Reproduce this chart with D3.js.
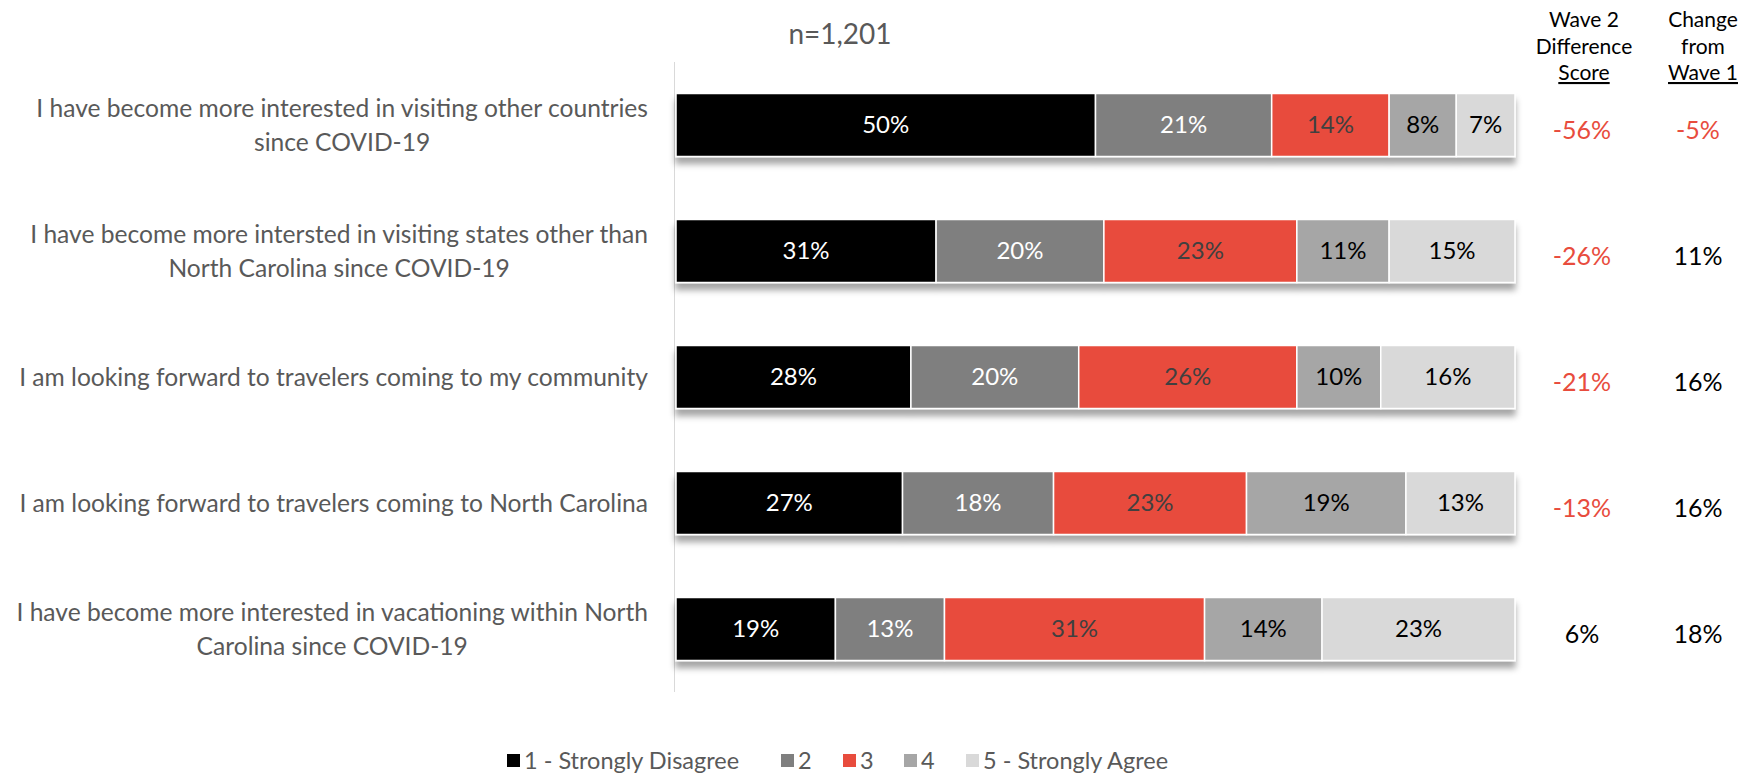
<!DOCTYPE html>
<html>
<head>
<meta charset="utf-8">
<script src="https://cdn.jsdelivr.net/npm/d3@7"></script>
<style>
  html, body { margin: 0; padding: 0; background: #ffffff; }
  svg { display: block; font-family: Lato, "Open Sans", sans-serif; }
</style>
</head>
<body>
<svg id="chart" width="1758" height="778"></svg>
<script>
// Survey statements (line breaks mark where each label wraps)
const categories = [
  "I have become more interested in visiting other countries\nsince COVID-19",
  "I have become more intersted in visiting states other than\nNorth Carolina since COVID-19",
  "I am looking forward to travelers coming to my community",
  "I am looking forward to travelers coming to North Carolina",
  "I have become more interested in vacationing within North\nCarolina since COVID-19"
];

// Response scale
const seriesNames = ["1 - Strongly Disagree", "2", "3", "4", "5 - Strongly Agree"];

// Percent of respondents per response, one array per statement
const strongDisagree = [50, 31, 28, 27, 19];
const disagree       = [21, 20, 20, 18, 13];
const neutral        = [14, 23, 26, 23, 31];
const agree          = [8, 11, 10, 19, 14];
const strongAgree    = [7, 15, 16, 13, 23];

// Side columns
const differenceScore = [-56, -26, -21, -13, 6];
const changeFromWave1 = [-5, 11, 16, 16, 18];

const sampleLabel = "n=1,201";
const diffHeader = ["Wave 2", "Difference", "Score"];
const changeHeader = ["Change", "from", "Wave 1"];

const colors = ["#000000", "#7f7f7f", "#e84c3d", "#a6a6a6", "#d9d9d9"];
const labelColors = ["#ffffff", "#ffffff", "#404040", "#000000", "#000000"];

const seriesValues = [strongDisagree, disagree, neutral, agree, strongAgree];
const rows = categories.map((c, i) => {
  const r = { category: c };
  seriesNames.forEach((s, k) => { r[s] = seriesValues[k][i]; });
  return r;
});

const svg = d3.select("#chart");

const x = d3.scaleLinear().domain([0, 100]).range([676, 1515]);
const y = d3.scaleBand().domain(categories).range([62, 692]).paddingInner(0.5).paddingOuter(0.25);

const stacked = d3.stack().keys(seriesNames)(rows);

// Soft shadow under each bar
const defs = svg.append("defs");
const f = defs.append("filter").attr("id", "barShadow")
  .attr("x", "-5%").attr("y", "-20%").attr("width", "110%").attr("height", "160%");
f.append("feDropShadow").attr("dx", 0).attr("dy", 7).attr("stdDeviation", 3)
  .attr("flood-color", "#000").attr("flood-opacity", 0.35);

// Vertical axis line
svg.append("line")
  .attr("x1", 674.5).attr("x2", 674.5)
  .attr("y1", 62).attr("y2", 692)
  .attr("stroke", "#d9d9d9").attr("stroke-width", 1);

// Bars
const rowGroups = svg.append("g").selectAll("g.row")
  .data(categories)
  .join("g").attr("class", "row")
  .attr("filter", "url(#barShadow)");

rowGroups.each(function(cat, i) {
  const g = d3.select(this);
  stacked.forEach((layer, k) => {
    const d = layer[i];
    g.append("rect")
      .attr("x", x(d[0]))
      .attr("y", y(cat))
      .attr("width", x(d[1]) - x(d[0]))
      .attr("height", y.bandwidth())
      .attr("fill", colors[k])
      .attr("stroke", "#ffffff")
      .attr("stroke-width", 1.5);
  });
});

// Segment value labels
stacked.forEach((layer, k) => {
  svg.append("g").selectAll("text")
    .data(layer)
    .join("text")
    .attr("x", d => (x(d[0]) + x(d[1])) / 2)
    .attr("y", (d, i) => y(categories[i]) + y.bandwidth() / 2)
    .attr("dy", "0.35em")
    .attr("text-anchor", "middle")
    .attr("font-size", 24)
    .attr("fill", labelColors[k])
    .text(d => (d[1] - d[0]) + "%");
});

// Category labels: lines centered within a block that is right-aligned at x = 648
const catLabels = svg.append("g").selectAll("text")
  .data(categories)
  .join("text")
  .attr("text-anchor", "middle")
  .attr("font-size", 24.6)
  .attr("fill", "#595959");
catLabels.each(function(c) {
  const lines = c.split("\n");
  const cy = y(c) + y.bandwidth() / 2;
  const lh = 34;
  const t = d3.select(this);
  lines.forEach((ln, j) => {
    t.append("tspan")
      .attr("x", 648)
      .attr("y", cy + (j - (lines.length - 1) / 2) * lh)
      .attr("dy", "0.35em")
      .text(ln);
  });
  const tspans = t.selectAll("tspan").nodes();
  const maxW = d3.max(tspans, n => n.getComputedTextLength());
  tspans.forEach(n => { d3.select(n).attr("x", 648 - maxW / 2); });
});

// Sample size
svg.append("text")
  .attr("x", 840).attr("y", 34).attr("dy", "0.35em")
  .attr("text-anchor", "middle")
  .attr("font-size", 28)
  .attr("fill", "#595959")
  .text(sampleLabel);

// Column headers
function header(lines, cx) {
  const t = svg.append("text")
    .attr("text-anchor", "middle")
    .attr("font-size", 21)
    .attr("fill", "#000000");
  lines.forEach((ln, j) => {
    t.append("tspan").attr("x", cx).attr("y", 27 + j * 26.5)
      .attr("text-decoration", j === lines.length - 1 ? "underline" : null)
      .text(ln);
  });
}
header(diffHeader, 1584);
header(changeHeader, 1703);

// Side column values
const valColor = v => v < 0 ? "#e84c3d" : "#000000";
function sideColumn(values, cx) {
  svg.append("g").selectAll("text")
    .data(values)
    .join("text")
    .attr("x", cx)
    .attr("y", (d, i) => y(categories[i]) + y.bandwidth() / 2 + 5)
    .attr("dy", "0.35em")
    .attr("text-anchor", "middle")
    .attr("font-size", 25)
    .attr("fill", valColor)
    .text(d => d + "%");
}
sideColumn(differenceScore, 1582);
sideColumn(changeFromWave1, 1698);

// Legend
const legend = svg.append("g").attr("transform", "translate(0,761)");
const legendX = [507, 781, 843, 904, 966];
seriesNames.forEach((s, k) => {
  legend.append("rect")
    .attr("x", legendX[k]).attr("y", -7)
    .attr("width", 13).attr("height", 13)
    .attr("fill", colors[k]);
  legend.append("text")
    .attr("x", legendX[k] + 17).attr("y", 0).attr("dy", "0.35em")
    .attr("font-size", 23.5)
    .attr("fill", "#595959")
    .text(s);
});
</script>
</body>
</html>
